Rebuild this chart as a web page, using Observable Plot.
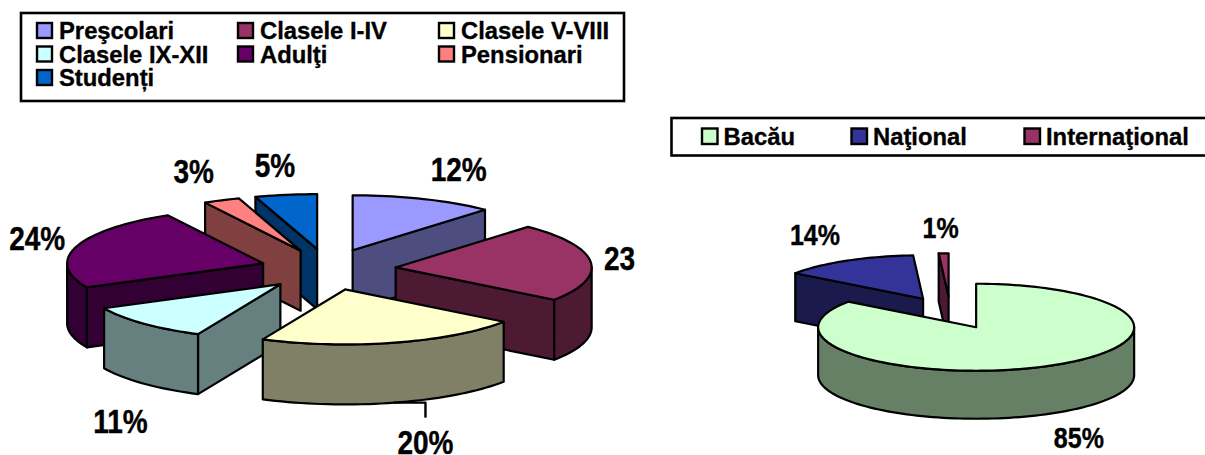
<!DOCTYPE html>
<html>
<head>
<meta charset="utf-8">
<script src="https://cdn.jsdelivr.net/npm/d3@7"></script>
<script src="https://cdn.jsdelivr.net/npm/@observablehq/plot@0.6"></script>
<style>html,body{margin:0;padding:0;background:#fff;overflow:hidden}svg{display:block}</style>
</head>
<body>
<div id="chart"></div>
<script>
// ---- data ----
const groupNames = ["Preşcolari","Clasele I-IV","Clasele V-VIII","Clasele IX-XII","Adulţi","Pensionari","Studenți"];
const groupValues = [11.8,23.2,21.9,10.9,24.1,3,5.1];
const groupLabels = ["12%","23","20%","11%","24%","3%","5%"];
const groupColors = ["#9999FF","#993366","#FFFFCC","#CCFFFF","#660066","#FF8080","#0066CC"];

const originNames = ["Bacău","Naţional","Internaţional"];
const originValues = [85,14,1];
const originLabels = ["85%","14%","1%"];
const originColors = ["#CCFFCC","#333399","#993366"];

// ---- layout ----
const leftPie = {cx:327.5, cy:269, rx:196, ry:55, depth:60, ex:68, ey:20.6,
  order:[0,6,5,4,1,3,2],
  nudge:[[35,-28.6],[28.8,-2.4],[31,101],[-22.6,99],[-39,-8],[-28,-28],[-11,-29]]};
const rightPie = {cx:949.9, cy:312.4, rx:158, ry:43.5, depth:48, ex:56.7, ey:16.1,
  order:[1,2,0],
  nudge:[[31,72.5],[-32,-25],[-3,-25]]};
const leftLegend = {frame:[21,13,624,101], columns:[37,238,439], top:23, rowStep:23.5, perRow:3, swatch:15, textGap:6.5};
const rightLegend = {frame:[671.5,118,1220,155.5], columns:[702,851.5,1024.5], top:128.5, rowStep:23, perRow:3, swatch:15.5, textGap:5.5};
const font = "Liberation Sans";
const edge = 2.2;
const labelStretch = 1.2;

// ---- geometry helpers ----
const rad = d => d * Math.PI / 180;
function half(c){const r=d3.rgb(c);return d3.rgb(r.r/2,r.g/2,r.b/2).formatHex();}
function buildPie(values, colors, labels, g){
  const total = d3.sum(values);
  let acc = 0;
  const slices = values.map((v,i)=>{
    const t0 = acc/total*360; acc += v; const t1 = acc/total*360; const mid=(t0+t1)/2;
    const ax = g.cx + g.ex*Math.sin(rad(mid)), ay = g.cy - g.ey*Math.cos(rad(mid));
    const rim = t => ({x:ax+g.rx*Math.sin(rad(t)), y:ay-g.ry*Math.cos(rad(t))});
    const arc = (a,b)=>{const n=Math.max(2,Math.ceil((b-a)/2));return d3.range(n+1).map(k=>rim(a+(b-a)*k/n));};
    return {i,t0,t1,mid,ax,ay,rim,arc,color:colors[i],label:labels[i]};
  });
  const marks = [];
  const poly = (pts,fill)=>marks.push(Plot.line([...pts,pts[0]],{x:"x",y:"y",fill,stroke:"#000",strokeWidth:edge,strokeLinejoin:"round"}));
  const down = p=>({x:p.x,y:p.y+g.depth});
  for(const idx of g.order){
    const s = slices[idx], dark = half(s.color), A={x:s.ax,y:s.ay};
    if(Math.sin(rad(s.t0))<-1e-6){const r=s.rim(s.t0);poly([A,r,down(r),down(A)],dark);}
    if(Math.sin(rad(s.t1))>1e-6){const r=s.rim(s.t1);poly([A,r,down(r),down(A)],dark);}
    const a=Math.max(s.t0,90), b=Math.min(s.t1,270);
    if(b>a){const top=s.arc(a,b);poly([...top,...top.slice().reverse().map(down)],dark);}
    poly([A,...s.arc(s.t0,s.t1)],s.color);
  }
  const labelRows = slices.map(s=>{const r=s.rim(s.mid);return {x:r.x+g.nudge[s.i][0],y:r.y+g.nudge[s.i][1],text:s.label,rx:r.x,ry:r.y};});
  return {marks,labelRows,slices};
}
function buildLegend(names, colors, l){
  const rows = names.map((name,i)=>{
    const col=i%l.perRow,row=Math.floor(i/l.perRow);
    const x=l.columns[col],y=l.top+row*l.rowStep;
    return {name,color:colors[i],x1:x,x2:x+l.swatch,y1:y,y2:y+l.swatch,tx:x+l.swatch+l.textGap,ty:y+l.swatch/2+0.5};
  });
  const [a,b,c,d]=l.frame;
  return [
    Plot.rect([{a,b,c,d}],{x1:"a",y1:"b",x2:"c",y2:"d",fill:"#fff",stroke:"#000",strokeWidth:2.6}),
    ...rows.map(r=>Plot.rect([r],{x1:"x1",x2:"x2",y1:"y1",y2:"y2",fill:r.color,stroke:"#000",strokeWidth:2.4})),
    Plot.text(rows,{x:"tx",y:"ty",text:"name",textAnchor:"start",fontFamily:font,fontWeight:"bold",fontSize:23.8,fill:"#000",stroke:"#000",strokeWidth:0.35})
  ];
}
const left = buildPie(groupValues,groupColors,groupLabels,leftPie);
const right = buildPie(originValues,originColors,originLabels,rightPie);
const labelMark = (rows,size)=>Plot.text(rows,{x:"x",y:"y",text:"text",fontFamily:font,fontWeight:"bold",fontSize:size,fill:"#000",stroke:"#000",strokeWidth:0.35,className:"pct"});

// leader of the 20% label
const l3 = left.labelRows[2];
const leader = [{x:l3.rx,y:l3.ry+leftPie.depth},{x:l3.x,y:l3.ry+leftPie.depth},{x:l3.x,y:l3.y-27}];

const chart = Plot.plot({
  width:1205,height:455,margin:0,
  x:{domain:[0,1205],range:[0,1205],axis:null},
  y:{domain:[0,455],range:[0,455],axis:null},
  style:{background:"#fff"},
  marks:[
    ...left.marks,
    ...right.marks,
    Plot.line(leader,{x:"x",y:"y",stroke:"#000",strokeWidth:2.4}),
    labelMark(left.labelRows,28),
    labelMark(right.labelRows,25),
    ...buildLegend(groupNames,groupColors,leftLegend),
    ...buildLegend(originNames,originColors,rightLegend)
  ]
});
// the percentage labels of the reference are drawn taller than wide
chart.querySelectorAll(".pct text").forEach(t=>{
  const tr=t.getAttribute("transform")||"";
  t.setAttribute("transform",tr+" scale(1,"+labelStretch+")");
});
document.getElementById("chart").appendChild(chart);
</script>
</body>
</html>
